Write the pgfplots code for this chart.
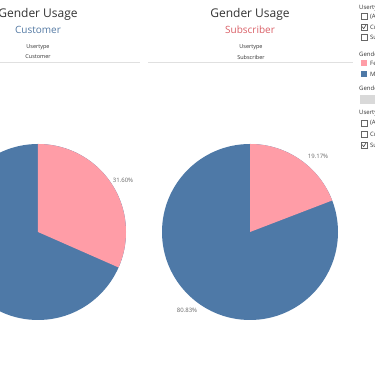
\documentclass[border=0pt]{standalone}
\usepackage{pgfplots}
\pgfplotsset{compat=1.18}
\usepackage{pgfplotstable}
\usepackage{fontspec}
\setmainfont{Open Sans}
\definecolor{pinkc}{HTML}{FF9DA7}
\definecolor{bluec}{HTML}{4E79A7}
\definecolor{subred}{HTML}{D95F66}
\definecolor{custblue}{HTML}{5379A3}
\definecolor{txt}{HTML}{333333}
\definecolor{lbl}{HTML}{666666}
\pgfplotstableread{
group female male
Customer 31.60 68.40
Subscriber 19.17 80.83
}\pietable
\pgfplotstablegetelem{0}{female}\of\pietable \let\custF\pgfplotsretval
\pgfplotstablegetelem{1}{female}\of\pietable \let\subF\pgfplotsretval
\pgfplotstablegetelem{0}{male}\of\pietable \let\custM\pgfplotsretval
\pgfplotstablegetelem{1}{male}\of\pietable \let\subM\pgfplotsretval
\pgfmathsetmacro{\aL}{90-3.6*\custF}
\pgfmathsetmacro{\aR}{90-3.6*\subF}
\begin{document}
\begin{tikzpicture}
\useasboundingbox (0,0) rectangle (375pt,366pt);
\clip (0,0) rectangle (375pt,366pt);
\begin{axis}[at={(0,0)}, anchor=origin, width=375pt, height=366pt, scale only axis,
  xmin=0, xmax=375, ymin=0, ymax=366, hide axis, clip=false]
% left pie (Customer)
\fill[bluec] (axis cs:38,134) circle[radius=88pt];
\fill[pinkc] (axis cs:38,134) -- ([shift={(90:88pt)}]axis cs:38,134) arc[start angle=90, end angle=\aL, radius=88pt] -- cycle;
% right pie (Subscriber)
\fill[bluec] (axis cs:250,134) circle[radius=88pt];
\fill[pinkc] (axis cs:250,134) -- ([shift={(90:88pt)}]axis cs:250,134) arc[start angle=90, end angle=\aR, radius=88pt] -- cycle;
% pie labels
\node[font=\fontsize{6}{7}\selectfont, text=lbl] at (axis cs:123,186) {\custF\%};
\node[font=\fontsize{6}{7}\selectfont, text=lbl] at (axis cs:318,210) {\subF\%};
\node[font=\fontsize{6}{7}\selectfont, text=lbl] at (axis cs:187,56) {\subM\%};
% titles
\node[font=\fontsize{12}{14}\selectfont, text=txt] at (axis cs:38,352) {Gender Usage};
\node[font=\fontsize{10}{12}\selectfont, text=custblue] at (axis cs:38,336) {Customer};
\node[font=\fontsize{12}{14}\selectfont, text=txt] at (axis cs:250,352) {Gender Usage};
\node[font=\fontsize{10}{12}\selectfont, text=subred] at (axis cs:250,336) {Subscriber};
\node[font=\fontsize{5.5}{6}\selectfont, text=txt] at (axis cs:38,319) {Usertype};
\node[font=\fontsize{5.5}{6}\selectfont, text=txt] at (axis cs:38,309) {Customer};
\node[font=\fontsize{5.5}{6}\selectfont, text=txt] at (axis cs:251,319) {Usertype};
\node[font=\fontsize{5.5}{6}\selectfont, text=txt] at (axis cs:251,309) {Subscriber};
\draw[black!12, line width=0.8pt] (axis cs:0,304) -- (axis cs:140,304);
\draw[black!12, line width=0.8pt] (axis cs:148,304) -- (axis cs:353,304);
% right panel
\tikzset{ptxt/.style={font=\fontsize{6}{7}\selectfont, text=txt, anchor=west, inner sep=0pt},
  cbox/.style={black!60, line width=0.5pt}}
\node[ptxt] at (axis cs:359,358) {Usertype};
\draw[cbox] (axis cs:361,346.5) rectangle (axis cs:367,352.5);
\node[ptxt] at (axis cs:370,349.5) {(All)};
\draw[cbox] (axis cs:361,336) rectangle (axis cs:367,342);
\node[ptxt] at (axis cs:370,339) {Customer};
\draw[cbox] (axis cs:361,326) rectangle (axis cs:367,332);
\node[ptxt] at (axis cs:370,329) {Subscriber};
\draw[black!70, line width=0.6pt] (axis cs:362.2,339.3) -- (axis cs:363.7,337.3) -- (axis cs:366,341);
\node[ptxt] at (axis cs:359,312) {Gender};
\fill[pinkc] (axis cs:361,300) rectangle (axis cs:367,306);
\node[ptxt] at (axis cs:370,303) {Female};
\fill[bluec] (axis cs:361,289) rectangle (axis cs:367,295);
\node[ptxt] at (axis cs:370,292) {Male};
\node[ptxt] at (axis cs:359,278) {Gender};
\fill[black!15] (axis cs:360,262) rectangle (axis cs:376,271);
\node[ptxt] at (axis cs:359,253) {Usertype};
\draw[cbox] (axis cs:361,240) rectangle (axis cs:367,246);
\node[ptxt] at (axis cs:370,243) {(All)};
\draw[cbox] (axis cs:361,229) rectangle (axis cs:367,235);
\node[ptxt] at (axis cs:370,232) {Customer};
\draw[cbox] (axis cs:361,218) rectangle (axis cs:367,224);
\node[ptxt] at (axis cs:370,221) {Subscriber};
\draw[black!70, line width=0.6pt] (axis cs:362.2,221.3) -- (axis cs:363.7,219.3) -- (axis cs:366,223);
\end{axis}
\end{tikzpicture}
\end{document}
